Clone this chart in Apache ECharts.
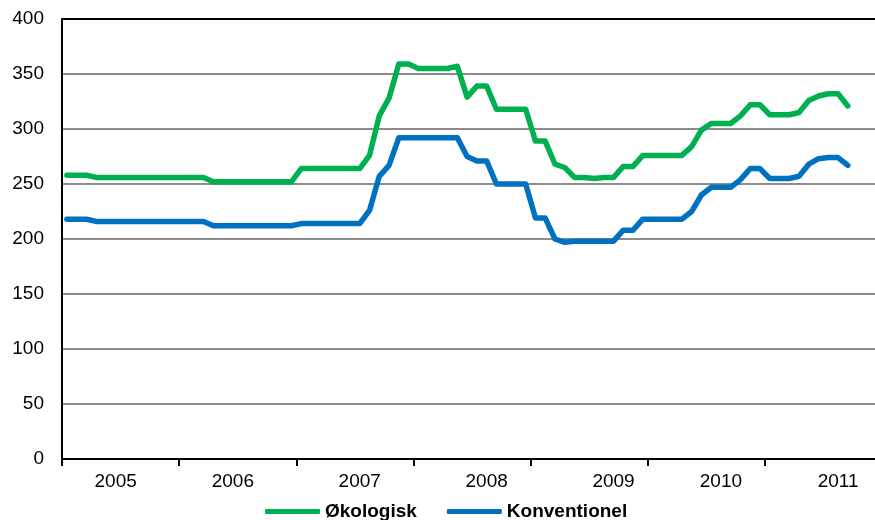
<!DOCTYPE html>
<html>
<head>
<meta charset="utf-8">
<script src="https://cdn.jsdelivr.net/npm/echarts@6/dist/echarts.min.js"></script>
<style>html,body{margin:0;padding:0;background:#fff}#c{width:875px;height:520px}</style>
</head>
<body>
<div id="c"></div>
<script>
const months = [];
const years = ['2005','2006','2007','2008','2009','2010','2011'];
for (const y of years) { for (let m = 1; m <= 12; m++) months.push(y + '-' + (m < 10 ? '0' + m : m)); }
// months where the year label is printed (as in the original)
const labelMonths = ['2005-06','2006-06','2007-07','2008-08','2009-09','2010-08','2011-08'];
const yTicks = [0,50,100,150,200,250,300,350,400];

const okologisk = [
  258,258,258,256,256,256,256,256,256,256,256,256,
  256,256,256,252,252,252,252,252,252,252,252,252,
  264,264,264,264,264,264,264,276,312,328,359,359,
  355,355,355,355,357,329,339,339,318,318,318,318,
  289,289,268,265,256,256,255,256,256,266,266,276,
  276,276,276,276,284,299,305,305,305,312,322,322,
  313,313,313,315,326,330,332,332,321
];
const konventionel = [
  218,218,218,216,216,216,216,216,216,216,216,216,
  216,216,216,212,212,212,212,212,212,212,212,212,
  214,214,214,214,214,214,214,226,257,267,292,292,
  292,292,292,292,292,275,271,271,250,250,250,250,
  219,219,200,197,198,198,198,198,198,208,208,218,
  218,218,218,218,225,240,247,247,247,254,264,264,
  255,255,255,257,268,273,274,274,267
];

const FONT = "'Liberation Sans', Arial, sans-serif";
const chart = echarts.init(document.getElementById('c'), null, {renderer: 'canvas'});
const gridColors = yTicks.map((v, i) => i === yTicks.length - 1 ? '#000000' : '#8c8c8c');

chart.setOption({
  animation: false,
  backgroundColor: '#ffffff',
  grid: {left: 62, width: 820, top: 19, bottom: 61, containLabel: false, outerBoundsMode: 'none'},
  legend: {
    left: 260, top: 497,
    itemWidth: 55, itemHeight: 5, itemGap: 30,
    icon: 'roundRect',
    textStyle: {fontFamily: FONT, fontSize: 19, fontWeight: 'bold', color: '#000'},
    data: ['Økologisk', 'Konventionel']
  },
  xAxis: {
    type: 'category',
    data: months,
    boundaryGap: true,
    axisLine: {show: true, lineStyle: {color: '#000', width: 2}},
    axisTick: {show: true, length: 7, lineStyle: {color: '#000', width: 2},
      interval: (i) => i % 12 === 0},
    axisLabel: {
      show: true, margin: 13, fontFamily: FONT, fontSize: 19, color: '#000',
      interval: (i, v) => labelMonths.indexOf(v) >= 0,
      formatter: (v) => v.slice(0, 4)
    },
    splitLine: {show: false}
  },
  yAxis: {
    type: 'value',
    min: 0, max: 400, interval: 50,
    axisLine: {show: true, lineStyle: {color: '#000', width: 2}},
    axisTick: {show: false},
    axisLabel: {margin: 18, fontFamily: FONT, fontSize: 19, color: '#000'},
    splitLine: {show: true, lineStyle: {color: gridColors, width: 2}}
  },
  series: [
    {name: 'Økologisk', type: 'line', data: okologisk, showSymbol: false, symbol: 'none',
     color: '#00b050', lineStyle: {width: 5.5, color: '#00b050', cap: 'round', join: 'round'}},
    {name: 'Konventionel', type: 'line', data: konventionel, showSymbol: false, symbol: 'none',
     color: '#0070c0', lineStyle: {width: 5.5, color: '#0070c0', cap: 'round', join: 'round'}}
  ]
});
</script>
</body>
</html>
